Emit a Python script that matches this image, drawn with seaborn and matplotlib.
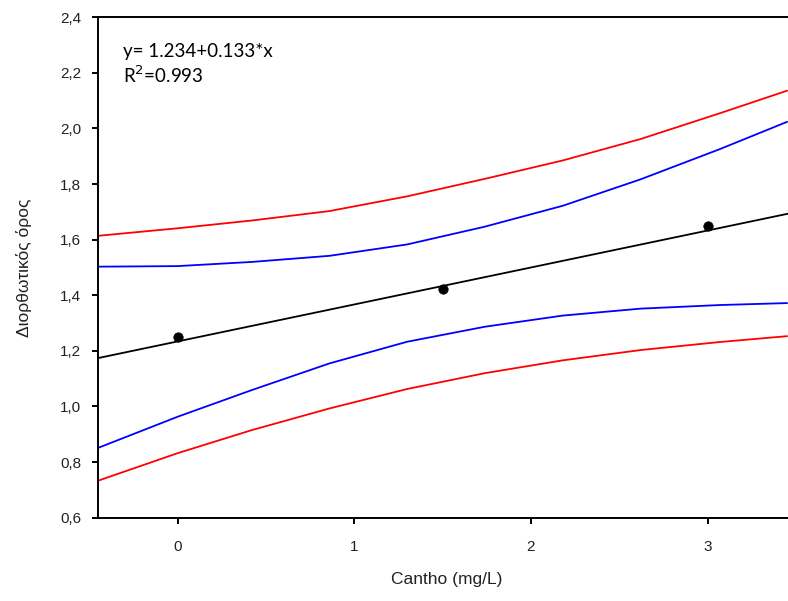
import matplotlib
matplotlib.use("Agg")
import matplotlib.pyplot as plt
import seaborn as sns
import pandas as pd
from matplotlib.ticker import FuncFormatter

# Measured concentrations and response
conc = [0.0, 1.5, 3.0]
response = [1.250, 1.421, 1.650]

# Fitted regression coefficients
intercept = 1.234
slope = 0.133
r_squared = 0.993

# Band sample positions and values (95% confidence and prediction bands)
band_x = [-0.45, 0.0, 0.42, 0.86, 1.30, 1.74, 2.18, 2.62, 3.07, 3.45]
conf_upper = [1.503, 1.505, 1.520, 1.542, 1.583, 1.647, 1.722, 1.817, 1.926, 2.024]
conf_lower = [0.851, 0.963, 1.059, 1.155, 1.233, 1.287, 1.327, 1.352, 1.365, 1.372]
pred_upper = [1.614, 1.641, 1.669, 1.703, 1.756, 1.819, 1.885, 1.962, 2.055, 2.136]
pred_lower = [0.733, 0.832, 0.915, 0.993, 1.063, 1.120, 1.166, 1.203, 1.232, 1.253]

x_limits = (-0.45, 3.455)
y_limits = (0.6, 2.4)
x_ticks = [0, 1, 2, 3]
y_ticks = [0.6, 0.8, 1.0, 1.2, 1.4, 1.6, 1.8, 2.0, 2.2, 2.4]

sns.set_style("ticks")
plt.rcParams["font.family"] = ["Liberation Sans", "DejaVu Sans"]

W, H = 788, 601
fig = plt.figure(figsize=(W / 100, H / 100), dpi=100)
left_px, right_px, top_px, bottom_px = 98, 788, 17.3, 517.7
ax = fig.add_axes([left_px / W, 1 - bottom_px / H,
                   (right_px - left_px) / W, (bottom_px - top_px) / H])

bands = pd.DataFrame({"x": band_x, "cu": conf_upper, "cl": conf_lower,
                      "pu": pred_upper, "pl": pred_lower})
lw = 1.3
for col, colour in [("pu", "#ff0000"), ("pl", "#ff0000"),
                    ("cu", "#0000ff"), ("cl", "#0000ff")]:
    sns.lineplot(data=bands, x="x", y=col, color=colour, linewidth=lw,
                 ax=ax, sort=False, estimator=None, legend=False)

fit = pd.DataFrame({"x": [x_limits[0], x_limits[1]]})
fit["y"] = intercept + slope * fit["x"]
sns.lineplot(data=fit, x="x", y="y", color="black", linewidth=lw, ax=ax,
             sort=False, estimator=None, legend=False)

pts = pd.DataFrame({"x": conc, "y": response})
sns.scatterplot(data=pts, x="x", y="y", color="black", s=46, marker="o",
                edgecolor="black", linewidth=0.5, ax=ax, zorder=5, legend=False)

ax.set_xlim(*x_limits)
ax.set_ylim(*y_limits)
ax.set_xticks(x_ticks)
ax.set_yticks(y_ticks)
ax.yaxis.set_major_formatter(FuncFormatter(lambda v, p: f"{v:.1f}".replace(".", ",")))
ax.xaxis.set_major_formatter(FuncFormatter(lambda v, p: f"{v:g}"))

for side in ["left", "bottom", "top"]:
    ax.spines[side].set_visible(True)
    ax.spines[side].set_linewidth(1.4)
    ax.spines[side].set_color("black")
ax.spines["right"].set_visible(False)

ax.tick_params(axis="both", direction="out", length=4, width=1.4,
               colors="black", labelcolor="#222222", labelsize=11)
ax.tick_params(axis="y", pad=8)
ax.tick_params(axis="x", pad=12)

ax.set_xlabel("Cantho (mg/L)", fontsize=12.5, color="#222222")
ax.set_ylabel("Διορθωτικός όρος", fontsize=12.5, color="#222222")
ax.xaxis.set_label_coords((447 - left_px) / (right_px - left_px), -0.108)
ax.yaxis.set_label_coords(-0.096, 0.5)

eq_font = ["Lato", "DejaVu Sans"]
fig.text(123 / W, 1 - 57 / H, f"y= {intercept}+{slope}*x", fontsize=13.5,
         family=eq_font, color="black", va="baseline", ha="left")
fig.text(123 / W, 1 - 83 / H, f"R$^2$={r_squared}", fontsize=13.5,
         family=eq_font, color="black", va="baseline", ha="left")

fig.savefig("out.png", dpi=100)
